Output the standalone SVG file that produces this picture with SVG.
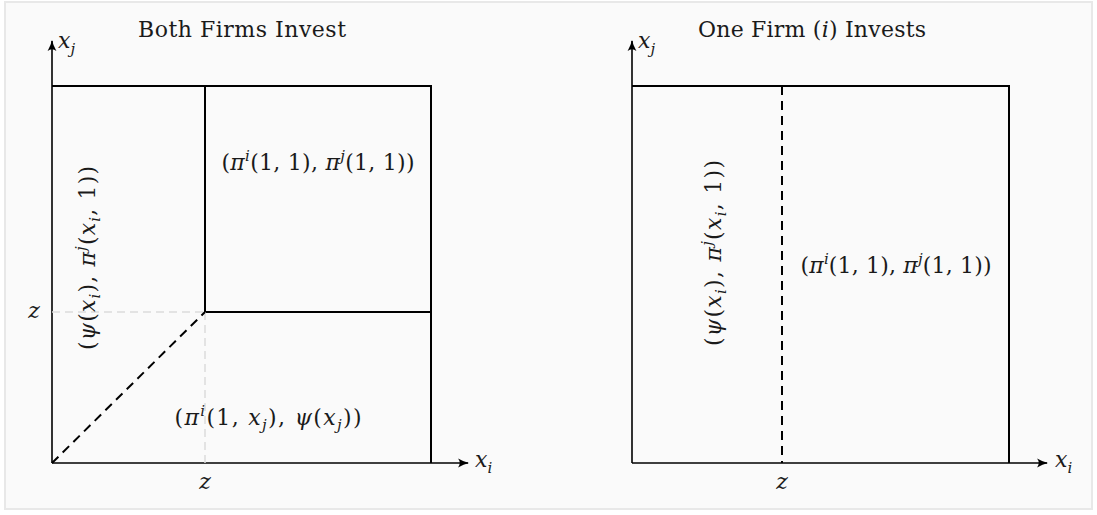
<svg xmlns="http://www.w3.org/2000/svg" width="1097" height="515" viewBox="0 0 1097 515">
<style>
.bg{fill:#fafafa;stroke:#e8e8e8;stroke-width:2}
.ln{fill:none;stroke:#000;stroke-width:2}
.ax{fill:none;stroke:#000;stroke-width:1.6}
.dash{fill:none;stroke:#000;stroke-width:2;stroke-dasharray:9 6}
.gdash{fill:none;stroke:#dcdcdc;stroke-width:1.5;stroke-dasharray:8 5}
text{font-family:"DejaVu Serif","Liberation Serif",serif;fill:#1a1a1a}
.title{font-size:22px}
.m{font-size:22px}
.it{font-style:italic}
.sup{font-size:15px;font-style:italic}
</style>
<defs>
<marker id="arr" viewBox="0 0 10 10" refX="9" refY="5" markerWidth="11" markerHeight="11" markerUnits="userSpaceOnUse" orient="auto">
<path d="M0,1 Q5,4 10,5 Q5,6 0,9 Q3,5 0,1 Z" fill="#000"/>
</marker>
</defs>
<rect class="bg" x="5" y="2" width="1087" height="507"/>

<g id="connectors">
<line class="ax" x1="52" y1="463" x2="52" y2="41" marker-end="url(#arr)"/>
<line class="ax" x1="52" y1="463" x2="468" y2="463" marker-end="url(#arr)"/>
<line class="ax" x1="632" y1="463" x2="632" y2="41" marker-end="url(#arr)"/>
<line class="ax" x1="632" y1="463" x2="1047" y2="463" marker-end="url(#arr)"/>
</g>

<g id="left-plot">
<path class="ln" d="M52,86 H431 V463"/>
<path class="ln" d="M205,86 V312 H431"/>
<line class="gdash" x1="52" y1="312" x2="205" y2="312"/>
<line class="gdash" x1="205" y1="312" x2="205" y2="463"/>
<line class="dash" x1="52" y1="463" x2="205" y2="312"/>
</g>

<g id="right-plot">
<path class="ln" d="M632,86 H1009 V463"/>
<line class="dash" x1="782" y1="86" x2="782" y2="463"/>
</g>

<g id="left-labels">
<text class="title" x="242" y="37" text-anchor="middle" textLength="208">Both Firms Invest</text>
<text class="m it" x="58" y="48">x<tspan class="sup" dy="6">j</tspan></text>
<text class="m it" x="475" y="467">x<tspan class="sup" dy="6">i</tspan></text>
<text class="m it" x="34" y="318" text-anchor="middle">z</text>
<text class="m it" x="205" y="489" text-anchor="middle">z</text>
<text class="m" x="318" y="170" text-anchor="middle" textLength="193">(<tspan class="it">π</tspan><tspan class="sup" dy="-9">i</tspan><tspan dy="9">(1, 1),  </tspan><tspan class="it">π</tspan><tspan class="sup" dy="-9">j</tspan><tspan dy="9">(1, 1))</tspan></text>
<text class="m" x="268" y="425" text-anchor="middle" textLength="187">(<tspan class="it">π</tspan><tspan class="sup" dy="-9">i</tspan><tspan dy="9">(1, </tspan><tspan class="it">x</tspan><tspan class="sup" dy="5">j</tspan><tspan dy="-5">),  </tspan><tspan class="it">ψ</tspan>(<tspan class="it">x</tspan><tspan class="sup" dy="5">j</tspan><tspan dy="-5">))</tspan></text>
<text class="m" transform="translate(95,258) rotate(-90)" x="0" y="0" text-anchor="middle" textLength="184">(<tspan class="it">ψ</tspan>(<tspan class="it">x</tspan><tspan class="sup" dy="5">i</tspan><tspan dy="-5">),  </tspan><tspan class="it">π</tspan><tspan class="sup" dy="-9">j</tspan><tspan dy="9">(</tspan><tspan class="it">x</tspan><tspan class="sup" dy="5">i</tspan><tspan dy="-5">, 1))</tspan></text>
</g>

<g id="right-labels">
<text class="title" x="812" y="37" text-anchor="middle" textLength="228">One Firm (<tspan class="it">i</tspan>) Invests</text>
<text class="m it" x="638" y="48">x<tspan class="sup" dy="6">j</tspan></text>
<text class="m it" x="1055" y="467">x<tspan class="sup" dy="6">i</tspan></text>
<text class="m it" x="782" y="489" text-anchor="middle">z</text>
<text class="m" x="896" y="273" text-anchor="middle" textLength="191">(<tspan class="it">π</tspan><tspan class="sup" dy="-9">i</tspan><tspan dy="9">(1, 1),  </tspan><tspan class="it">π</tspan><tspan class="sup" dy="-9">j</tspan><tspan dy="9">(1, 1))</tspan></text>
<text class="m" transform="translate(721,253) rotate(-90)" x="0" y="0" text-anchor="middle" textLength="186">(<tspan class="it">ψ</tspan>(<tspan class="it">x</tspan><tspan class="sup" dy="5">i</tspan><tspan dy="-5">),  </tspan><tspan class="it">π</tspan><tspan class="sup" dy="-9">j</tspan><tspan dy="9">(</tspan><tspan class="it">x</tspan><tspan class="sup" dy="5">i</tspan><tspan dy="-5">, 1))</tspan></text>
</g>
</svg>
